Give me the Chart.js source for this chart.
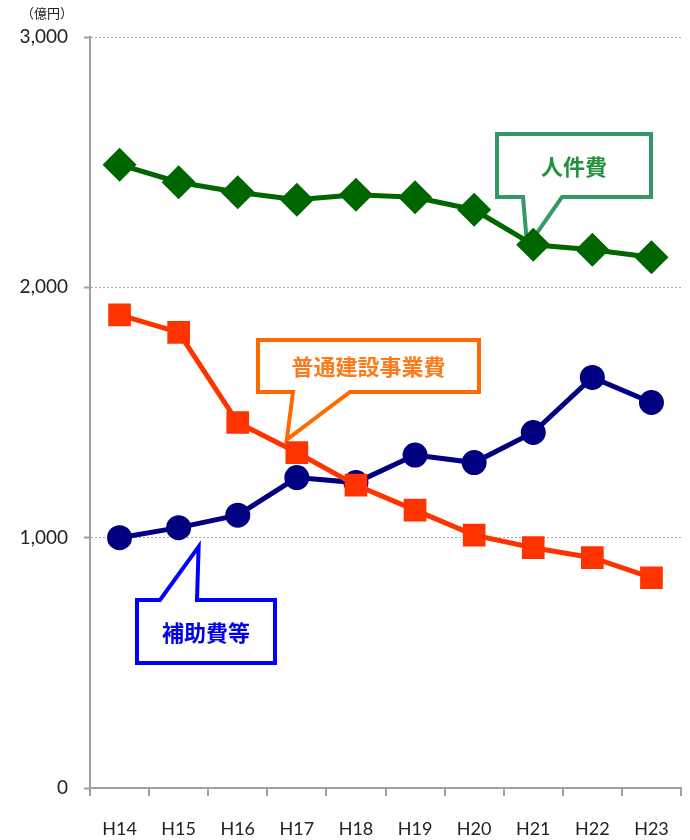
<!DOCTYPE html>
<html>
<head>
<meta charset="utf-8">
<script src="https://cdn.jsdelivr.net/npm/chart.js@4.4.1/dist/chart.umd.min.js"></script>
<style>
  html, body { margin: 0; padding: 0; background: #ffffff; }
  #wrap { width: 690px; height: 840px; }
</style>
</head>
<body>
<div id="wrap"><canvas id="c" width="690" height="840"></canvas></div>
<script>
// Fiscal years (Heisei)
const years = ['H14', 'H15', 'H16', 'H17', 'H18', 'H19', 'H20', 'H21', 'H22', 'H23'];

// Expenditure by type, 億円
const personnel = [2490, 2420, 2380, 2350, 2370, 2360, 2310, 2170, 2150, 2120];      // 人件費
const construction = [1890, 1820, 1460, 1340, 1210, 1110, 1010, 960, 920, 840];     // 普通建設事業費
const subsidies = [1000, 1040, 1090, 1240, 1220, 1330, 1300, 1420, 1640, 1540];      // 補助費等

const yTicks = [0, 1000, 2000, 3000];
const unitLabel = '（億円）';

const seriesNames = ['人件費', '普通建設事業費', '補助費等'];

const AXIS_GRAY = '#a0a0a0';
const LABEL_FONT = "Lato, 'Noto Sans', sans-serif";
const CJK_FONT = "'Noto Sans CJK JP', sans-serif";

// Speech-bubble labels, each tail pointing at one point of its series
const callouts = [
  { ds: 0, idx: 7, text: seriesNames[0], stroke: '#339966', color: '#24913c',
    box: { x: 497, y: 134, w: 154, h: 63 }, tail: { from: 523, to: 562, side: 'bottom' }, tip: { dx: -6, dy: 2 } },
  { ds: 1, idx: 3, text: seriesNames[1], stroke: '#ff6a00', color: '#ff7a1a',
    box: { x: 258, y: 340, w: 221, h: 52 }, tail: { from: 293, to: 350, side: 'bottom' }, tip: { dx: -10, dy: -13 } },
  { ds: 2, idx: 1, text: seriesNames[2], stroke: '#0000ff', color: '#0000ee',
    box: { x: 137, y: 600, w: 138, h: 63 }, tail: { from: 160, to: 197, side: 'top' }, tip: { dx: 20, dy: 19 } }
];

const calloutPlugin = {
  id: 'callouts',
  beforeDatasetsDraw(chart) {
    const ctx = chart.ctx;
    ctx.save();
    for (const c of callouts) {
      const pt = chart.getDatasetMeta(c.ds).data[c.idx];
      const tx = pt.x + c.tip.dx, ty = pt.y + c.tip.dy;
      const b = c.box;
      ctx.beginPath();
      if (c.tail.side === 'bottom') {
        ctx.moveTo(b.x, b.y);
        ctx.lineTo(b.x + b.w, b.y);
        ctx.lineTo(b.x + b.w, b.y + b.h);
        ctx.lineTo(c.tail.to, b.y + b.h);
        ctx.lineTo(tx, ty);
        ctx.lineTo(c.tail.from, b.y + b.h);
        ctx.lineTo(b.x, b.y + b.h);
      } else {
        ctx.moveTo(b.x, b.y);
        ctx.lineTo(c.tail.from, b.y);
        ctx.lineTo(tx, ty);
        ctx.lineTo(c.tail.to, b.y);
        ctx.lineTo(b.x + b.w, b.y);
        ctx.lineTo(b.x + b.w, b.y + b.h);
        ctx.lineTo(b.x, b.y + b.h);
      }
      ctx.closePath();
      ctx.fillStyle = '#ffffff';
      ctx.fill();
      ctx.lineWidth = 4;
      ctx.lineJoin = 'miter';
      ctx.strokeStyle = c.stroke;
      ctx.stroke();

      ctx.fillStyle = c.color;
      ctx.font = 'bold 22px ' + CJK_FONT;
      ctx.textAlign = 'center';
      ctx.textBaseline = 'middle';
      ctx.fillText(c.text, b.x + b.w / 2, b.y + b.h / 2 + 1);
    }
    ctx.restore();
  },
  afterDraw(chart) {
    const ctx = chart.ctx;
    ctx.save();
    ctx.fillStyle = '#222222';
    ctx.font = '13px ' + CJK_FONT;
    ctx.textAlign = 'center';
    ctx.textBaseline = 'middle';
    ctx.fillText(unitLabel, 47, 13);
    ctx.restore();
  }
};

new Chart(document.getElementById('c'), {
  type: 'line',
  data: {
    labels: years,
    datasets: [
      { label: seriesNames[0], data: personnel, borderColor: '#006600', backgroundColor: '#006600',
        borderWidth: 5, pointStyle: 'rectRot', pointRadius: 13.5, pointHoverRadius: 13.5, tension: 0 },
      { label: seriesNames[1], data: construction, borderColor: '#ff3300', backgroundColor: '#ff3300',
        borderWidth: 5, pointStyle: 'rect', pointRadius: 12.5, pointHoverRadius: 12.5, tension: 0 },
      { label: seriesNames[2], data: subsidies, borderColor: '#000080', backgroundColor: '#000080',
        borderWidth: 5, pointStyle: 'circle', pointRadius: 10, pointHoverRadius: 10, tension: 0 }
    ]
  },
  options: {
    responsive: false,
    animation: false,
    devicePixelRatio: 1,
    layout: { autoPadding: false, padding: { left: 0, right: 9, top: 37, bottom: 0 } },
    plugins: { legend: { display: false }, tooltip: { enabled: false } },
    scales: {
      x: {
        offset: true,
        grid: { offset: true, drawOnChartArea: false, drawTicks: true, tickLength: 8, color: AXIS_GRAY, lineWidth: 2 },
        border: { display: true, color: AXIS_GRAY, width: 2 },
        ticks: { color: '#222222', font: { family: LABEL_FONT, size: 18 }, padding: 22, maxRotation: 0, autoSkip: false },
        afterFit(scale) { scale.height = 52; scale.paddingLeft = 0; scale.paddingRight = 0; }
      },
      y: {
        min: 0, max: 3000,
        afterBuildTicks(scale) { scale.ticks = yTicks.map(v => ({ value: v })); },
        grid: {
          color: (ctx) => ctx.tick && ctx.tick.value === 0 ? 'rgba(0,0,0,0)' : '#a8a8a8',
          lineWidth: 1, tickLength: 6, tickColor: AXIS_GRAY, tickBorderDash: [], tickWidth: 2
        },
        border: { display: true, color: AXIS_GRAY, width: 2, dash: [2, 2] },
        ticks: {
          color: '#222222', font: { family: LABEL_FONT, size: 19 }, padding: 16,
          callback: (v) => v.toLocaleString('en-US')
        },
        afterFit(scale) { scale.width = 90; }
      }
    }
  },
  plugins: [calloutPlugin]
});
</script>
</body>
</html>
